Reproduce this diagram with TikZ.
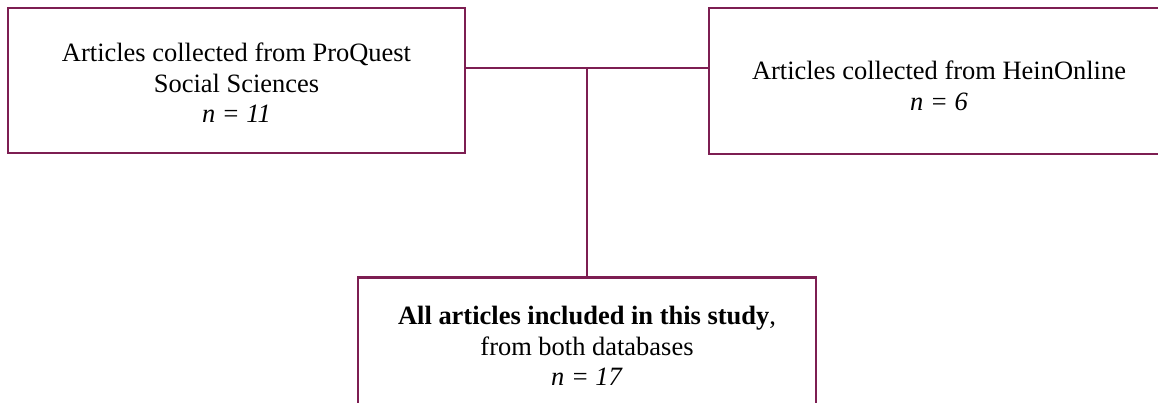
\documentclass[tikz,border=0pt]{standalone}
\usepackage{fontspec}
\setmainfont{Liberation Serif}
\definecolor{maroon}{RGB}{125,30,82}
\begin{document}
\begin{tikzpicture}[x=0.4535pt,y=-0.4535pt,
  boxstyle/.style={draw=maroon,line width=1.3pt,rectangle,inner sep=0pt},
  linkstyle/.style={draw=maroon,line width=1.3pt},
  txt/.style={align=center,font=\fontsize{12}{13.8}\selectfont,inner sep=0pt}]
\useasboundingbox (0,0) rectangle (1158,402);
\clip (0,0) rectangle (1158,402);
\node[boxstyle,minimum width=457*0.4535pt,minimum height=145*0.4535pt] (left) at (236.5,80.5) {};
\node[boxstyle,minimum width=460*0.4535pt,minimum height=146*0.4535pt] (right) at (939,81) {};
\node[boxstyle,minimum width=458*0.4535pt,minimum height=140*0.4535pt] (bottom) at (587,347.5) {};
\node[txt] (lefttext) at (236.5,83) {Articles collected from ProQuest\\Social Sciences\\\textit{n = 11}};
\node[txt] (righttext) at (939,86) {Articles collected from HeinOnline\\\textit{n = 6}};
\node[txt] (bottomtext) at (587,346) {\textbf{All articles included in this study}, \\from both databases\\\textit{n = 17}};
\coordinate (lj) at (left.east |- 0,68);
\coordinate (rj) at (right.west |- 0,68);
\coordinate (mj) at (bottom.north |- 0,68);
\draw[linkstyle] (lj) -- (rj);
\draw[linkstyle] (bottom.north) -- (mj);
\end{tikzpicture}
\end{document}
